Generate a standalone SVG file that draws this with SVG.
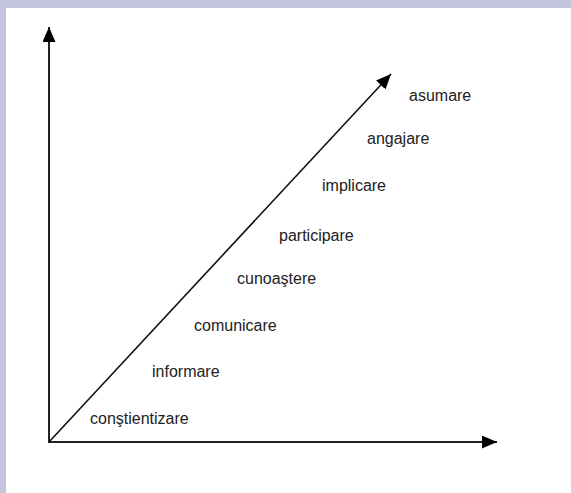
<svg xmlns="http://www.w3.org/2000/svg" width="571" height="493" viewBox="0 0 571 493">
<style>
.lbl{font-family:"Liberation Sans",Arial,sans-serif;font-size:16px;fill:#222}
.ax{stroke:#222;stroke-width:2;fill:none}
.dg{stroke:#111;stroke-width:1.6;fill:none}
</style>
<defs>
<marker id="ah" markerUnits="userSpaceOnUse" markerWidth="16" markerHeight="14" refX="15" refY="6.5" orient="auto">
<path d="M0,0 L15,6.5 L0,13 z" fill="#000"/>
</marker>
</defs>
<rect x="0" y="0" width="571" height="493" fill="#c4c4dc"/>
<rect x="6" y="8" width="565" height="485" fill="#fff"/>
<g id="connectors">
<line class="ax" x1="49" y1="443" x2="49" y2="27" marker-end="url(#ah)"/>
<line class="ax" x1="48" y1="442" x2="497" y2="442" marker-end="url(#ah)"/>
<line class="dg" x1="49" y1="442" x2="391" y2="74" marker-end="url(#ah)"/>
</g>
<g id="asumare"><text class="lbl" x="409" y="101">asumare</text></g>
<g id="angajare"><text class="lbl" x="367" y="144">angajare</text></g>
<g id="implicare"><text class="lbl" x="322" y="191">implicare</text></g>
<g id="participare"><text class="lbl" x="279" y="241">participare</text></g>
<g id="cunoastere"><text class="lbl" x="237" y="284">cunoaştere</text></g>
<g id="comunicare"><text class="lbl" x="194" y="331">comunicare</text></g>
<g id="informare"><text class="lbl" x="152" y="377">informare</text></g>
<g id="constientizare"><text class="lbl" x="90" y="424">conştientizare</text></g>
</svg>
